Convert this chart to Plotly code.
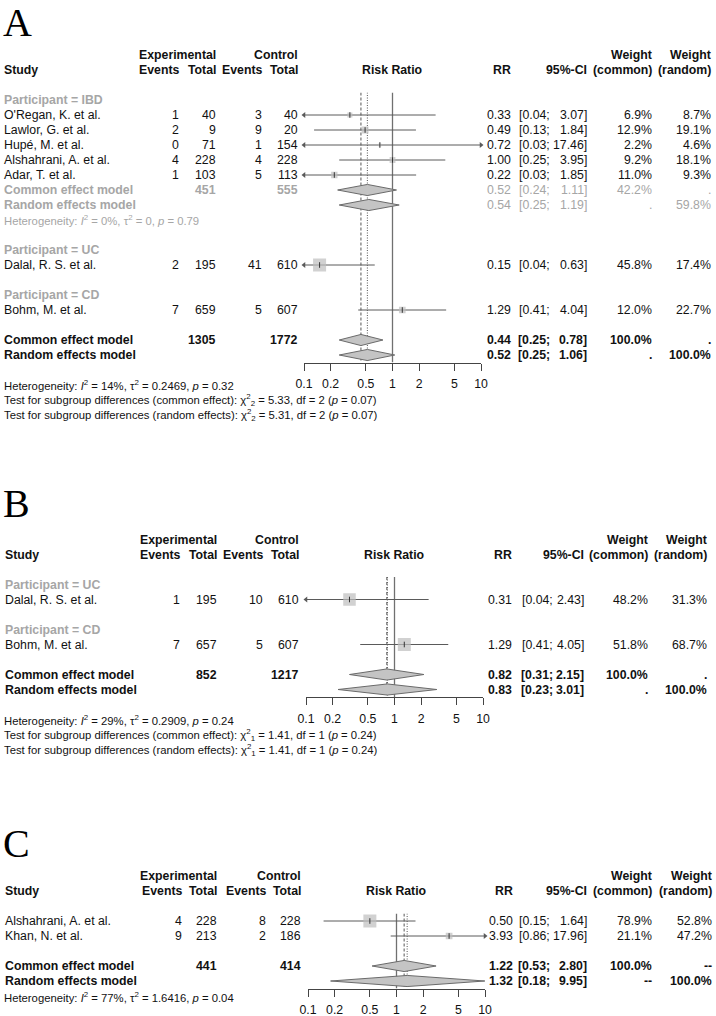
import math
import plotly.graph_objects as go

W, H = 716, 1016
FONT = "Liberation Sans, Arial, sans-serif"
SERIF = "Liberation Serif, Times New Roman, serif"
FS = 12.3
FS_SMALL = 11.3
BLACK = "#111111"
GRAY = "#a6a6a6"
CI_COL = "#5a5a5a"
SQ_COL = "#bdbdbd"
DIA_FILL = "#c4c4c4"
DIA_LINE = "#6a6a6a"

TICK_VALS = [0.1, 0.2, 0.5, 1, 2, 5, 10]
TICK_TEXT = ["0.1", "0.2", "0.5", "1", "2", "5", "10"]

# ---------------- Panel A ----------------
A_study = ["O'Regan, K. et al.", "Lawlor, G. et al.", "Hupé, M. et al.",
           "Alshahrani, A. et al.", "Adar, T. et al.", "Dalal, R. S. et al.",
           "Bohm, M. et al."]
A_group = ["IBD", "IBD", "IBD", "IBD", "IBD", "UC", "CD"]
A_group_order = ["IBD", "UC", "CD"]
A_exp_events = [1, 2, 0, 4, 1, 2, 7]
A_exp_total = [40, 9, 71, 228, 103, 195, 659]
A_ctl_events = [3, 9, 1, 4, 5, 41, 5]
A_ctl_total = [40, 20, 154, 228, 113, 610, 607]
A_rr = [0.33, 0.49, 0.72, 1.00, 0.22, 0.15, 1.29]
A_lo = [0.04, 0.13, 0.03, 0.25, 0.03, 0.04, 0.41]
A_hi = [3.07, 1.84, 17.46, 3.95, 1.85, 0.63, 4.04]
A_w_common = [6.9, 12.9, 2.2, 9.2, 11.0, 45.8, 12.0]
A_w_random = [8.7, 19.1, 4.6, 18.1, 9.3, 17.4, 22.7]
# subgroup summaries
A_sub_name = ["IBD"]
A_sub_exp_total = [451]
A_sub_ctl_total = [555]
A_sub_common = [0.52]
A_sub_common_lo = [0.24]
A_sub_common_hi = [1.11]
A_sub_common_w = [42.2]
A_sub_random = [0.54]
A_sub_random_lo = [0.25]
A_sub_random_hi = [1.19]
A_sub_random_w = [59.8]
A_sub_het = ["<i>I</i><sup>2</sup> = 0%, τ<sup>2</sup> = 0, <i>p</i> = 0.79"]
# overall
A_tot = [1305, 1772]
A_common = [0.44, 0.25, 0.78]
A_random = [0.52, 0.25, 1.06]
A_notes = [
    "Heterogeneity: <i>I</i><sup>2</sup> = 14%, τ<sup>2</sup> = 0.2469, <i>p</i> = 0.32",
    "Test for subgroup differences (common effect): χ<sup>2</sup><sub>2</sub> = 5.33, df = 2 (<i>p</i> = 0.07)",
    "Test for subgroup differences (random effects): χ<sup>2</sup><sub>2</sub> = 5.31, df = 2 (<i>p</i> = 0.07)",
]

# ---------------- Panel B ----------------
B_study = ["Dalal, R. S. et al.", "Bohm, M. et al."]
B_group = ["UC", "CD"]
B_group_order = ["UC", "CD"]
B_exp_events = [1, 7]
B_exp_total = [195, 657]
B_ctl_events = [10, 5]
B_ctl_total = [610, 607]
B_rr = [0.31, 1.29]
B_lo = [0.04, 0.41]
B_hi = [2.43, 4.05]
B_w_common = [48.2, 51.8]
B_w_random = [31.3, 68.7]
B_tot = [852, 1217]
B_common = [0.82, 0.31, 2.15]
B_random = [0.83, 0.23, 3.01]
B_notes = [
    "Heterogeneity: <i>I</i><sup>2</sup> = 29%, τ<sup>2</sup> = 0.2909, <i>p</i> = 0.24",
    "Test for subgroup differences (common effect): χ<sup>2</sup><sub>1</sub> = 1.41, df = 1 (<i>p</i> = 0.24)",
    "Test for subgroup differences (random effects): χ<sup>2</sup><sub>1</sub> = 1.41, df = 1 (<i>p</i> = 0.24)",
]

# ---------------- Panel C ----------------
C_study = ["Alshahrani, A. et al.", "Khan, N. et al."]
C_exp_events = [4, 9]
C_exp_total = [228, 213]
C_ctl_events = [8, 2]
C_ctl_total = [228, 186]
C_rr = [0.50, 3.93]
C_lo = [0.15, 0.86]
C_hi = [1.64, 17.96]
C_w_common = [78.9, 21.1]
C_w_random = [52.8, 47.2]
C_tot = [441, 414]
C_common = [1.22, 0.53, 2.80]
C_random = [1.32, 0.18, 9.95]
C_notes = [
    "Heterogeneity: <i>I</i><sup>2</sup> = 77%, τ<sup>2</sup> = 1.6416, <i>p</i> = 0.04",
]

# ---------------- layout (pixel geometry) ----------------
PANELS = [
    dict(letter="A", row0=100, xdom=(304, 481), letter_row=-5.19, note_row=2, dot=".",
         cols=dict(name=3, ev1=180, tot1=217, ev2=263, tot2=299, rr=512, lo=551, ci=588, wc=653, wr=712),
         study=A_study, group=A_group, group_order=A_group_order,
         ev1=A_exp_events, tot1=A_exp_total, ev2=A_ctl_events, tot2=A_ctl_total,
         rr=A_rr, lo=A_lo, hi=A_hi, wc=A_w_common, wr=A_w_random,
         sub=dict(name=A_sub_name, t1=A_sub_exp_total, t2=A_sub_ctl_total,
                  c=A_sub_common, clo=A_sub_common_lo, chi=A_sub_common_hi, cw=A_sub_common_w,
                  r=A_sub_random, rlo=A_sub_random_lo, rhi=A_sub_random_hi, rw=A_sub_random_w,
                  het=A_sub_het),
         tot=A_tot, common=A_common, random=A_random, notes=A_notes),
    dict(letter="B", row0=584.5, xdom=(306, 483), letter_row=-5.4, note_row=2, dot=".",
         cols=dict(name=4, ev1=181, tot1=218, ev2=264, tot2=300, rr=513, lo=554, ci=585, wc=649, wr=708),
         study=B_study, group=B_group, group_order=B_group_order,
         ev1=B_exp_events, tot1=B_exp_total, ev2=B_ctl_events, tot2=B_ctl_total,
         rr=B_rr, lo=B_lo, hi=B_hi, wc=B_w_common, wr=B_w_random,
         sub=None, tot=B_tot, common=B_common, random=B_random, notes=B_notes),
    dict(letter="C", row0=921, xdom=(308, 485), letter_row=-5.17, note_row=1.07, dot="--",
         cols=dict(name=4, ev1=183, tot1=218, ev2=267, tot2=302, rr=514, lo=551, ci=588, wc=653, wr=713),
         study=C_study, group=None, group_order=None,
         ev1=C_exp_events, tot1=C_exp_total, ev2=C_ctl_events, tot2=C_ctl_total,
         rr=C_rr, lo=C_lo, hi=C_hi, wc=C_w_common, wr=C_w_random,
         sub=None, tot=C_tot, common=C_common, random=C_random, notes=C_notes),
]

ROW_PX = 15.0
DH = 0.37
SQ_MAX = 13.0

fig = go.Figure()
annotations = []
CUR = {"row0": 0.0}


def ypaper(row):
    return 1 - (CUR["row0"] + ROW_PX * row) / H


def txt(s, xpx, row, anchor="right", color=BLACK, size=FS, bold=False, family=FONT):
    if bold:
        s = "<b>" + s + "</b>"
    annotations.append(dict(text=s, x=xpx / W, xref="paper", y=ypaper(row), yref="paper",
                            xanchor=anchor, yanchor="middle", showarrow=False, borderpad=0,
                            font=dict(size=size, color=color, family=family)))


def f2(v):
    return "%.2f" % v


def pct(v):
    return "%.1f%%" % v


def build_rows(p):
    rows = []
    r = 0
    n = len(p["study"])
    sub_names = p["sub"]["name"] if p["sub"] else []
    if p["group_order"]:
        for g in p["group_order"]:
            rows.append(("group", g, r)); r += 1
            for i in range(n):
                if p["group"][i] == g:
                    rows.append(("study", i, r)); r += 1
            if g in sub_names:
                k = sub_names.index(g)
                rows.append(("sub_common", k, r)); r += 1
                rows.append(("sub_random", k, r)); r += 1
                rows.append(("sub_het", k, r)); r += 1
            r += 1
    else:
        for i in range(n):
            rows.append(("study", i, r)); r += 1
        r += 1
    rows.append(("common", None, r)); r += 1
    rows.append(("random", None, r))
    return rows, r


def add_ci_text(c, row, rr, lo, hi, color, bold):
    txt(f2(rr), c["rr"], row, color=color, bold=bold)
    txt("[" + f2(lo) + ";", c["lo"], row, color=color, bold=bold)
    txt(f2(hi) + "]", c["ci"], row, color=color, bold=bold)


def diamond(est, lo, hi, row, xa, ya):
    fig.add_trace(go.Scatter(x=[lo, est, hi, est, lo], y=[row, row - DH, row, row + DH, row],
                             mode="lines", fill="toself", fillcolor=DIA_FILL,
                             line=dict(color=DIA_LINE, width=1), xaxis=xa, yaxis=ya,
                             hoverinfo="skip"))


for k, p in enumerate(PANELS):
    idx = "" if k == 0 else str(k + 1)
    xa, ya = "x" + idx, "y" + idx
    CUR["row0"] = p["row0"]
    c = p["cols"]
    rows, last = build_rows(p)
    top_px = p["row0"] - 0.5 * ROW_PX
    bot_px = p["row0"] + (last + 0.5) * ROW_PX

    fig.layout["xaxis" + idx] = dict(
        domain=[p["xdom"][0] / W, p["xdom"][1] / W], type="log", range=[-1, 1],
        anchor=ya, tickvals=TICK_VALS, ticktext=TICK_TEXT, ticks="outside", ticklen=7,
        tickwidth=1, tickcolor="#444444", showline=True, linecolor="#444444", linewidth=1,
        showgrid=False, zeroline=False, tickfont=dict(size=FS, color=BLACK, family=FONT),
        ticklabelstandoff=3, automargin=False, fixedrange=True)
    fig.layout["yaxis" + idx] = dict(
        domain=[1 - bot_px / H, 1 - top_px / H], range=[last + 0.5, -0.5], visible=False,
        automargin=False, fixedrange=True)

    # panel letter
    txt(p["letter"], 2, p["letter_row"], anchor="left", size=40, family=SERIF, color="#000000")

    # headers
    txt("Experimental", c["tot1"], -3, bold=True)
    txt("Control", c["tot2"], -3, bold=True)
    txt("Weight", c["wc"], -3, bold=True)
    txt("Weight", c["wr"], -3, bold=True)
    txt("Study", c["name"], -2, anchor="left", bold=True)
    txt("Events", c["ev1"], -2, bold=True)
    txt("Total", c["tot1"], -2, bold=True)
    txt("Events", c["ev2"], -2, bold=True)
    txt("Total", c["tot2"], -2, bold=True)
    txt("RR", c["rr"], -2, bold=True)
    txt("95%-CI", c["ci"], -2, bold=True)
    txt("(common)", c["wc"], -2, bold=True)
    txt("(random)", c["wr"], -2, bold=True)
    annotations.append(dict(text="<b>Risk Ratio</b>", x=0, xref=xa, y=ypaper(-2), yref="paper",
                            xanchor="center", yanchor="middle", showarrow=False, borderpad=0,
                            font=dict(size=FS, color=BLACK, family=FONT)))

    # reference lines
    fig.add_trace(go.Scatter(x=[1, 1], y=[-0.5, last + 0.5], mode="lines",
                             line=dict(color="#707070", width=1.3), xaxis=xa, yaxis=ya,
                             hoverinfo="skip"))
    fig.add_trace(go.Scatter(x=[p["common"][0]] * 2, y=[-0.5, last + 0.5], mode="lines",
                             line=dict(color="#555555", width=1, dash="3px,2px"), xaxis=xa, yaxis=ya,
                             hoverinfo="skip"))
    fig.add_trace(go.Scatter(x=[p["random"][0]] * 2, y=[-0.5, last + 0.5], mode="lines",
                             line=dict(color="#555555", width=1, dash="1px,1.5px"), xaxis=xa, yaxis=ya,
                             hoverinfo="skip"))

    wmax = max(p["wc"])
    ci_x, ci_y = [], []
    sq_x, sq_y, sq_s = [], [], []
    al_x, al_y, ar_x, ar_y = [], [], [], []
    for kind, i, r in rows:
        if kind == "group":
            txt("Participant = " + i, c["name"], r, anchor="left", color=GRAY, bold=True)
        elif kind == "study":
            txt(p["study"][i], c["name"], r, anchor="left")
            txt(str(p["ev1"][i]), c["ev1"], r)
            txt(str(p["tot1"][i]), c["tot1"], r)
            txt(str(p["ev2"][i]), c["ev2"], r)
            txt(str(p["tot2"][i]), c["tot2"], r)
            add_ci_text(c, r, p["rr"][i], p["lo"][i], p["hi"][i], BLACK, False)
            txt(pct(p["wc"][i]), c["wc"], r)
            txt(pct(p["wr"][i]), c["wr"], r)
            lo, hi = max(p["lo"][i], 0.1), min(p["hi"][i], 10)
            ci_x += [lo, hi, None]
            ci_y += [r, r, None]
            if p["lo"][i] < 0.1:
                al_x.append(0.1); al_y.append(r)
            if p["hi"][i] > 10:
                ar_x.append(10); ar_y.append(r)
            sq_x.append(p["rr"][i]); sq_y.append(r)
            sq_s.append(SQ_MAX * math.sqrt(p["wc"][i] / wmax))
        elif kind == "sub_common":
            s = p["sub"]
            txt("Common effect model", c["name"], r, anchor="left", color=GRAY, bold=True)
            txt(str(s["t1"][i]), c["tot1"], r, color=GRAY, bold=True)
            txt(str(s["t2"][i]), c["tot2"], r, color=GRAY, bold=True)
            add_ci_text(c, r, s["c"][i], s["clo"][i], s["chi"][i], GRAY, False)
            txt(pct(s["cw"][i]), c["wc"], r, color=GRAY)
            txt(p["dot"], c["wr"], r, color=GRAY)
            diamond(s["c"][i], s["clo"][i], s["chi"][i], r, xa, ya)
        elif kind == "sub_random":
            s = p["sub"]
            txt("Random effects model", c["name"], r, anchor="left", color=GRAY, bold=True)
            add_ci_text(c, r, s["r"][i], s["rlo"][i], s["rhi"][i], GRAY, False)
            txt(p["dot"], c["wc"], r, color=GRAY)
            txt(pct(s["rw"][i]), c["wr"], r, color=GRAY)
            diamond(s["r"][i], s["rlo"][i], s["rhi"][i], r, xa, ya)
        elif kind == "sub_het":
            txt("Heterogeneity: " + p["sub"]["het"][i], c["name"], r, anchor="left",
                color=GRAY, size=FS_SMALL)
        elif kind == "common":
            txt("Common effect model", c["name"], r, anchor="left", bold=True)
            txt(str(p["tot"][0]), c["tot1"], r, bold=True)
            txt(str(p["tot"][1]), c["tot2"], r, bold=True)
            add_ci_text(c, r, *p["common"], BLACK, True)
            txt(pct(100.0), c["wc"], r, bold=True)
            txt(p["dot"], c["wr"], r, bold=True)
            diamond(p["common"][0], p["common"][1], p["common"][2], r, xa, ya)
        elif kind == "random":
            txt("Random effects model", c["name"], r, anchor="left", bold=True)
            add_ci_text(c, r, *p["random"], BLACK, True)
            txt(p["dot"], c["wc"], r, bold=True)
            txt(pct(100.0), c["wr"], r, bold=True)
            diamond(p["random"][0], p["random"][1], p["random"][2], r, xa, ya)

    fig.add_trace(go.Scatter(x=ci_x, y=ci_y, mode="lines", line=dict(color=CI_COL, width=1),
                             xaxis=xa, yaxis=ya, hoverinfo="skip"))
    fig.add_trace(go.Scatter(x=sq_x, y=sq_y, mode="markers",
                             marker=dict(symbol="square", size=sq_s, color=SQ_COL,
                                         line=dict(width=0)),
                             xaxis=xa, yaxis=ya, hoverinfo="skip"))
    fig.add_trace(go.Scatter(x=sq_x, y=sq_y, mode="markers",
                             marker=dict(symbol="line-ns", size=4,
                                         line=dict(width=1, color="#333333")),
                             xaxis=xa, yaxis=ya, hoverinfo="skip"))
    if al_x:
        fig.add_trace(go.Scatter(x=al_x, y=al_y, mode="markers", cliponaxis=False,
                                 marker=dict(symbol="triangle-left", size=5, color=CI_COL),
                                 xaxis=xa, yaxis=ya, hoverinfo="skip"))
    if ar_x:
        fig.add_trace(go.Scatter(x=ar_x, y=ar_y, mode="markers", cliponaxis=False,
                                 marker=dict(symbol="triangle-right", size=5, color=CI_COL),
                                 xaxis=xa, yaxis=ya, hoverinfo="skip"))

    for j, note in enumerate(p["notes"]):
        txt(note, 3, last + p["note_row"] + j, anchor="left", size=FS_SMALL)

fig.update_layout(
    width=W, height=H, margin=dict(l=0, r=0, t=0, b=0, pad=0, autoexpand=False),
    paper_bgcolor="white", plot_bgcolor="white", showlegend=False,
    font=dict(family=FONT, size=FS, color=BLACK),
    annotations=annotations,
)

fig.write_html("out.html", config={"displayModeBar": False, "staticPlot": True},
               post_script="document.body.style.margin='0';document.body.style.padding='0';"
                           "document.documentElement.style.overflow='hidden';")
